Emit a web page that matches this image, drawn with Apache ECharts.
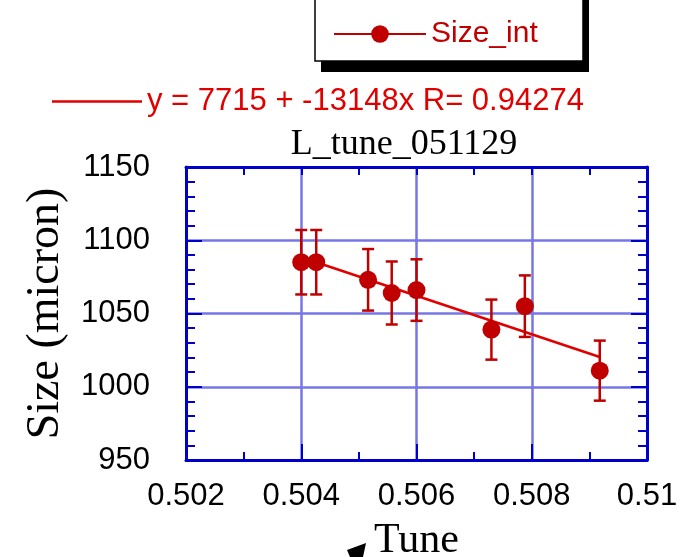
<!DOCTYPE html>
<html><head><meta charset="utf-8">
<script src="https://cdn.jsdelivr.net/npm/echarts@6/dist/echarts.min.js"></script>
<style>html,body{margin:0;padding:0;background:#fff}#c{width:682px;height:557px}</style>
</head><body><div id="c"></div>
<script>
// ---- data ----
const tune    = [0.50400, 0.50426, 0.50516, 0.50557, 0.50600, 0.50730, 0.50788, 0.50918];
const sizeInt = [1085, 1085, 1073, 1064, 1066, 1039, 1055, 1011];
const sizeErr = [22, 22, 21, 21.5, 21, 20.5, 21, 20.5];
const fitTune = [0.50400, 0.50918];
const fitSize = [1088.4, 1020.3];
const xTicks  = ['0.502', '0.504', '0.506', '0.508', '0.51'];
const yTicks  = ['950', '1000', '1050', '1100', '1150'];
const seriesName = 'Size_int';
const fitName = 'y = 7715 + -13148x R= 0.94274';
const titleText = 'L_tune_051129';
const xName = 'Tune';
const yName = 'Size (micron)';

const SANS = 'Liberation Sans, Arial, sans-serif';
const SERIF = 'Liberation Serif, Times New Roman, serif';
const BLUE = '#0000cc';
const GRID = '#7676e6';
const RED = '#c00000';
const FITRED = '#e00000';

const chart = echarts.init(document.getElementById('c'));

const frameAxis = {
  axisLine: { show: true, onZero: false, lineStyle: { color: BLUE, width: 3 } },
  axisTick: { show: true, inside: true, length: 16, lineStyle: { color: BLUE, width: 2 } },
  splitLine: { show: false }
};

chart.setOption({
  animation: false,
  backgroundColor: '#fff',
  title: {
    text: titleText, left: 404, top: 127, textAlign: 'center', padding: 0,
    textStyle: { fontFamily: SERIF, fontSize: 36, fontWeight: 'normal', color: '#000' }
  },
  graphic: [
    { type: 'rect', z: 1, shape: { x: 321, y: -10, width: 268, height: 82 }, style: { fill: '#000' } },
    { type: 'rect', z: 2, shape: { x: 315, y: -10, width: 268, height: 71 }, style: { fill: '#fff', stroke: '#000', lineWidth: 1.5 } },
    { type: 'polygon', z: 2, shape: { points: [[347, 550], [366, 543], [363, 557], [350, 557]] }, style: { fill: '#000' } }
  ],
  legend: [
    {
      data: [seriesName], left: 333, top: 19, padding: 0, itemWidth: 92, itemHeight: 22,
      selectedMode: false, z: 10,
      lineStyle: { opacity: 1, width: 2, color: RED },
      textStyle: { fontFamily: SANS, fontSize: 30, color: RED }
    },
    {
      data: [{ name: fitName, icon: 'rect' }], left: 52, top: 86, padding: 0, itemWidth: 90, itemHeight: 2.5,
      selectedMode: false,
      itemStyle: { color: FITRED },
      textStyle: { fontFamily: SANS, fontSize: 31, color: FITRED }
    }
  ],
  grid: { left: 186, right: 35, top: 167, bottom: 97, outerBoundsMode: 'none', containLabel: false },
  xAxis: [
    Object.assign({}, frameAxis, {
      type: 'value', position: 'bottom', min: 0.502, max: 0.51, interval: 0.002,
      minorTick: { show: true, splitNumber: 2, length: 8, lineStyle: { color: BLUE, width: 2 } },
      splitLine: { show: true, lineStyle: { color: GRID, width: 2.5 } },
      axisLabel: {
        margin: 21, fontSize: 31, color: '#000', fontFamily: SANS,
        formatter: v => xTicks[Math.round((v - 0.502) / 0.002)]
      },
      name: xName, nameLocation: 'middle', nameGap: 60,
      nameTextStyle: { fontFamily: SERIF, fontSize: 42, color: '#000' }
    }),
    Object.assign({}, frameAxis, {
      type: 'value', position: 'top', min: 0.502, max: 0.51, interval: 0.002,
      axisTick: { show: true, inside: true, length: 8, lineStyle: { color: BLUE, width: 2 } },
      minorTick: { show: true, splitNumber: 2, length: 8, lineStyle: { color: BLUE, width: 2 } },
      axisLabel: { show: false }
    })
  ],
  yAxis: [
    Object.assign({}, frameAxis, {
      type: 'value', position: 'left', min: 950, max: 1150, interval: 50,
      minorTick: { show: true, splitNumber: 5, length: 9, lineStyle: { color: BLUE, width: 2 } },
      splitLine: { show: true, lineStyle: { color: GRID, width: 2.5 } },
      axisLabel: {
        margin: 36, fontSize: 31, color: '#000', fontFamily: SANS,
        formatter: v => yTicks[Math.round((v - 950) / 50)]
      },
      name: yName, nameLocation: 'middle', nameGap: 117,
      nameTextStyle: { fontFamily: SERIF, fontSize: 46, color: '#000' }
    }),
    Object.assign({}, frameAxis, {
      type: 'value', position: 'right', min: 950, max: 1150, interval: 50,
      minorTick: { show: true, splitNumber: 5, length: 9, lineStyle: { color: BLUE, width: 2 } },
      axisLabel: { show: false }
    })
  ],
  series: [
    {
      name: fitName, type: 'line', xAxisIndex: 0, yAxisIndex: 0,
      data: fitTune.map((t, i) => [t, fitSize[i]]),
      symbol: 'none', lineStyle: { color: FITRED, width: 2.5 }, itemStyle: { color: FITRED }, z: 3
    },
    {
      name: 'err', type: 'custom', xAxisIndex: 0, yAxisIndex: 0,
      data: tune.map((t, i) => [t, sizeInt[i] - sizeErr[i], sizeInt[i] + sizeErr[i]]),
      encode: { x: 0, y: [1, 2] }, z: 4,
      renderItem: function (params, api) {
        const x = api.value(0);
        const pLo = api.coord([x, api.value(1)]);
        const pHi = api.coord([x, api.value(2)]);
        const w = 6;
        const style = { stroke: RED, lineWidth: 2.5 };
        return {
          type: 'group', children: [
            { type: 'line', shape: { x1: pLo[0], y1: pLo[1], x2: pHi[0], y2: pHi[1] }, style: style },
            { type: 'line', shape: { x1: pLo[0] - w, y1: pLo[1], x2: pLo[0] + w, y2: pLo[1] }, style: style },
            { type: 'line', shape: { x1: pHi[0] - w, y1: pHi[1], x2: pHi[0] + w, y2: pHi[1] }, style: style }
          ]
        };
      }
    },
    {
      name: seriesName, type: 'line', xAxisIndex: 0, yAxisIndex: 0,
      data: tune.map((t, i) => [t, sizeInt[i]]),
      symbol: 'circle', symbolSize: 18, z: 5,
      lineStyle: { opacity: 0 }, itemStyle: { color: RED }
    }
  ]
});
</script></body></html>
